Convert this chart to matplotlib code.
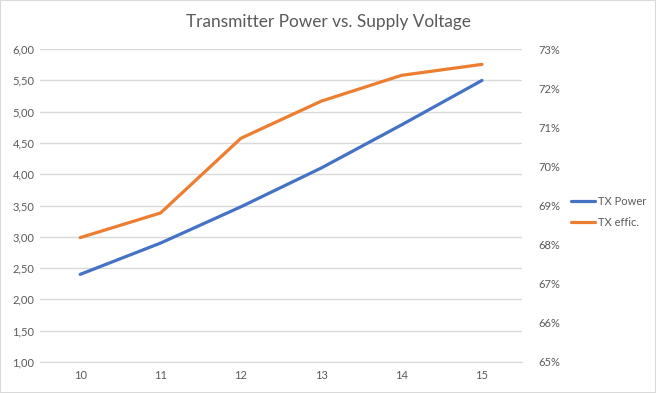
import matplotlib
matplotlib.use("Agg")
import matplotlib.pyplot as plt
from matplotlib.ticker import FuncFormatter, MultipleLocator
from matplotlib.patches import Rectangle

plt.rcParams['font.family'] = ['Lato', 'DejaVu Sans']

voltage = ["10", "11", "12", "13", "14", "15"]
tx_power = [2.40, 2.90, 3.48, 4.10, 4.79, 5.50]
tx_effic = [68.18, 68.81, 70.72, 71.67, 72.33, 72.61]

title = "Transmitter Power vs. Supply Voltage"
blue = "#4472C4"
orange = "#ED7D31"
grid_c = "#D9D9D9"
text_c = "#595959"

fig = plt.figure(figsize=(6.56, 3.93), dpi=100)
fig.patches.append(Rectangle((0, 0), 1, 1, transform=fig.transFigure,
                             fill=False, edgecolor="#D9D9D9", lw=1.5))
ax = fig.add_axes([0.061, 0.079, 0.735, 0.796])
ax2 = ax.twinx()

x = list(range(len(voltage)))
l1, = ax.plot(x, tx_power, color=blue, lw=2.3, solid_capstyle='round', zorder=3)
l2, = ax2.plot(x, tx_effic, color=orange, lw=2.3, solid_capstyle='round', zorder=3)

ax.set_xlim(-0.5, len(voltage) - 0.5)
ax.set_ylim(1.0, 6.0)
ax2.set_ylim(65, 73)
ax.yaxis.set_major_locator(MultipleLocator(0.5))
ax2.yaxis.set_major_locator(MultipleLocator(1))
ax.yaxis.set_major_formatter(FuncFormatter(lambda v, p: f"{v:.2f}".replace(".", ",")))
ax2.yaxis.set_major_formatter(FuncFormatter(lambda v, p: f"{v:.0f}%"))
ax.set_xticks(x)
ax.set_xticklabels(voltage)

ax.grid(axis='y', color=grid_c, lw=1)
ax.set_axisbelow(True)
for a in (ax, ax2):
    for s in a.spines.values():
        s.set_visible(False)
    a.tick_params(length=0, labelsize=8, labelcolor=text_c)
ax.spines['bottom'].set_visible(True)
ax.spines['bottom'].set_color(grid_c)
ax.tick_params(axis='y', pad=4)
ax.tick_params(axis='x', pad=6)
ax2.tick_params(axis='y', pad=12)

fig.text(0.5, 0.945, title, ha='center', va='center', fontsize=12.4, color=text_c)

fig.legend([l1, l2], ["TX Power", "TX effic."], loc='center left',
           bbox_to_anchor=(0.855, 0.46), frameon=False, fontsize=8,
           labelcolor=text_c, handlelength=2.2, handletextpad=0.2,
           labelspacing=0.9)

fig.savefig("out.png", dpi=100)
